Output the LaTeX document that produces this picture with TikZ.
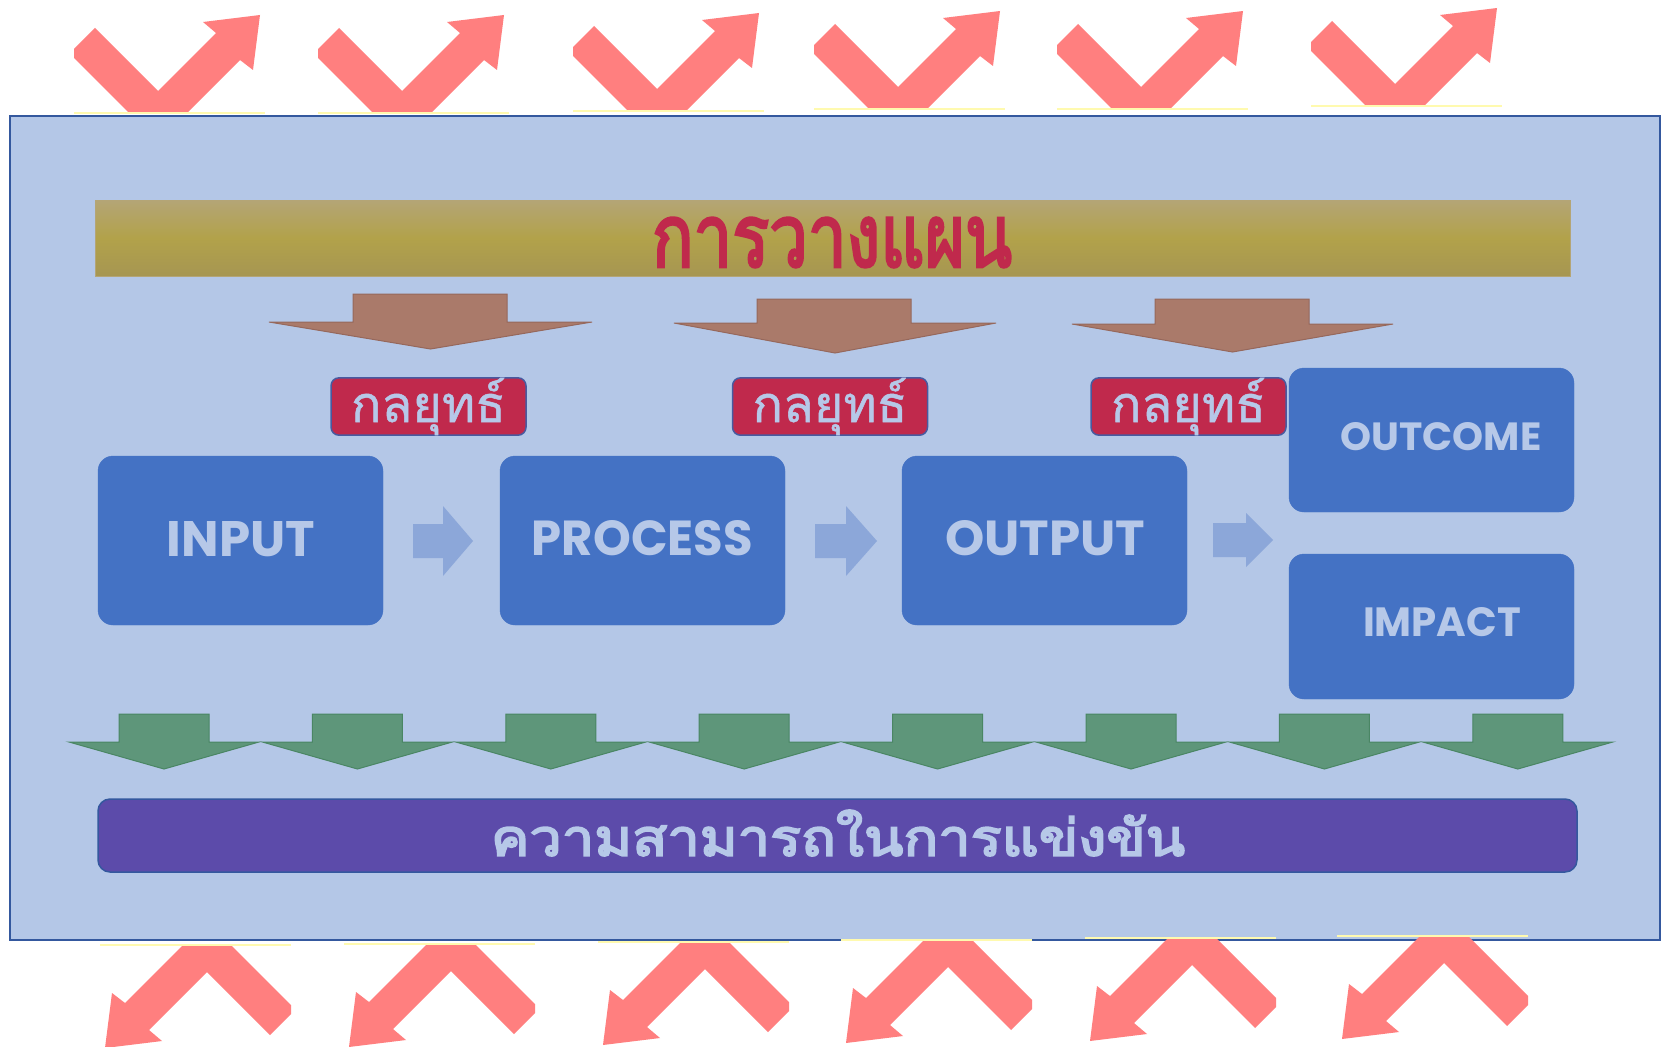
\documentclass[tikz,border=0pt]{standalone}
\usepackage{fontspec}
\usepackage{graphicx}
\setmainfont{Poppins}
\newfontfamily\thaifont[Script=Thai]{Loma}
\newfontfamily\thaiheavy[Script=Thai,FakeBold=3.5]{Loma}
\newfontfamily\thaimedium[Script=Thai,FakeBold=1]{Loma}
\definecolor{bgblue}{RGB}{180,199,231}
\definecolor{frameline}{RGB}{52,88,158}
\definecolor{boxblue}{RGB}{68,114,196}
\definecolor{lighttxt}{RGB}{182,200,232}
\definecolor{crimson}{RGB}{192,41,76}
\definecolor{labelline}{RGB}{72,90,160}
\definecolor{brownarr}{RGB}{170,122,106}
\definecolor{brownline}{RGB}{150,104,92}
\definecolor{greenarr}{RGB}{94,150,122}
\definecolor{greenline}{RGB}{74,134,100}
\definecolor{purplebar}{RGB}{92,75,170}
\definecolor{pinkarr}{RGB}{255,127,127}
\definecolor{lightarr}{RGB}{140,167,217}
\definecolor{paleyellow}{RGB}{255,250,175}
\definecolor{goldtop}{RGB}{180,165,118}
\definecolor{goldmid}{RGB}{178,162,74}
\definecolor{goldbot}{RGB}{166,150,82}
\begin{document}
\begin{tikzpicture}[x=1pt,y=-1pt,
  zig/.style={fill=pinkarr},
  yel/.style={draw=paleyellow,line width=2pt},
  stagebox/.style={draw=boxblue,fill=boxblue,rounded corners=15pt,minimum width=285pt,inner sep=0pt,text=lighttxt},
  stratlabel/.style={draw=labelline,line width=1.5pt,fill=crimson,rounded corners=8pt,minimum width=195pt,minimum height=55pt,inner sep=0pt,text=lighttxt},
  brownshape/.style={fill=brownarr,draw=brownline,line width=1pt},
  greenshape/.style={fill=greenarr,draw=greenline,line width=1pt},
  flowarrow/.style={fill=lightarr}
]
\useasboundingbox (0,0) rectangle (1661,1046);
\fill[white] (0,0) rectangle (1661,1046);

% top zig-zag arrows
\foreach \dx/\dy in {0/0,244/0,499/-2,740/-4,983/-4,1237/-7}{
  \begin{scope}[shift={(\dx,\dy)}]
    \fill[zig] (74,49) -- (95,28) -- (158,91) -- (216,33) -- (203,22) -- (260,15)
      -- (253,70) -- (240,60) -- (188,112) -- (128,112) -- (74,58) -- cycle;
    \draw[yel] (74,113) -- (265,113);
  \end{scope}
}

% main frame
\node[draw=frameline,line width=2.5pt,fill=bgblue,minimum width=1650pt,minimum height=824pt,inner sep=0pt] (frame) at (835,528) {};

% bottom zig-zag arrows (rotated copies)
\foreach \kx/\ky in {365/1063,609/1062,863/1060,1106/1058,1350/1056,1602/1054}{
  \begin{scope}[shift={(\kx,\ky)},xscale=-1,yscale=-1]
    \fill[zig] (74,49) -- (95,28) -- (158,91) -- (216,33) -- (203,22) -- (260,15)
      -- (253,70) -- (240,60) -- (182,118) -- (134,118) -- (74,58) -- cycle;
    \draw[yel] (74,118) -- (265,118);
  \end{scope}
}

% planning bar
\node[draw=goldtop,line width=1pt,top color=goldtop,bottom color=goldbot,middle color=goldmid,minimum width=1475pt,minimum height=76pt,inner sep=0pt] (plan) at (832.5,238) {};
\node[inner sep=0pt,text=crimson] (plantext) at (832,242.5) {\resizebox{360pt}{49pt}{\thaiheavy การวางแผน}};

% brown arrows
\draw[brownshape] (353,294) -- (507,294) -- (507,322) -- (592,322) -- (430.5,349) -- (269,322) -- (353,322) -- cycle;
\draw[brownshape] (757,299) -- (911,299) -- (911,323) -- (996,323) -- (835,353) -- (674,323) -- (757,323) -- cycle;
\draw[brownshape] (1155,299) -- (1309,299) -- (1309,324) -- (1393,324) -- (1232.5,352) -- (1072,324) -- (1155,324) -- cycle;

% strategy labels
\node[stratlabel] (s1) at (428.5,406.5) {\resizebox{155pt}{!}{\thaimedium กลยุทธ์}};
\node[stratlabel] (s2) at (830,406.5) {\resizebox{155pt}{!}{\thaimedium กลยุทธ์}};
\node[stratlabel] (s3) at (1188.5,406.5) {\resizebox{155pt}{!}{\thaimedium กลยุทธ์}};

% stage boxes
\node[stagebox,minimum height=169pt] (input) at (240.5,540.5) {};
\node[stagebox,minimum height=169pt] (process) at (642.5,540.5) {};
\node[stagebox,minimum height=169pt] (output) at (1044.5,540.5) {};
\node[stagebox,minimum height=144pt] (outcome) at (1431.5,440) {};
\node[stagebox,minimum height=145pt] (impact) at (1431.5,626.5) {};
\node[inner sep=0pt,text=lighttxt] (inputtxt) at (241,539) {\resizebox{148pt}{35pt}{\bfseries INPUT}};
\node[inner sep=0pt,text=lighttxt] (processtxt) at (642.5,538) {\resizebox{221pt}{35pt}{\bfseries PROCESS}};
\node[inner sep=0pt,text=lighttxt] (outputtxt) at (1045,538) {\resizebox{200pt}{35pt}{\bfseries OUTPUT}};
\node[inner sep=0pt,text=lighttxt] (outcometxt) at (1441,437) {\resizebox{201pt}{28pt}{\bfseries OUTCOME}};
\node[inner sep=0pt,text=lighttxt] (impacttxt) at (1442,622.5) {\resizebox{158pt}{29pt}{\bfseries IMPACT}};

% flow arrows
\fill[flowarrow] (413,524) -- (443,524) -- (443,506) -- (473,541) -- (443,576) -- (443,558) -- (413,558) -- cycle;
\fill[flowarrow] (815,524) -- (846,524) -- (846,506) -- (877,541) -- (846,576) -- (846,558) -- (815,558) -- cycle;
\fill[flowarrow] (1213,523) -- (1246,523) -- (1246,513) -- (1273,540) -- (1246,567) -- (1246,557) -- (1213,557) -- cycle;

% green arrows
\foreach \i in {0,...,7}{
  \pgfmathsetmacro{\tx}{164+193.4*\i}
  \draw[greenshape] (\tx-45,714) -- (\tx+45,714) -- (\tx+45,742) -- (\tx+95,742) -- (\tx,769) -- (\tx-95,742) -- (\tx-45,742) -- cycle;
}

% competitiveness bar
\node[draw=frameline,line width=1.5pt,fill=purplebar,rounded corners=12pt,minimum width=1479pt,minimum height=73pt,inner sep=0pt] (compete) at (837.5,835.5) {};
\node[inner sep=0pt,text=lighttxt] (competetxt) at (838,833) {\resizebox*{694pt}{46pt}{\thaiheavy ความสามารถในการแข่งขัน}};
\end{tikzpicture}
\end{document}
